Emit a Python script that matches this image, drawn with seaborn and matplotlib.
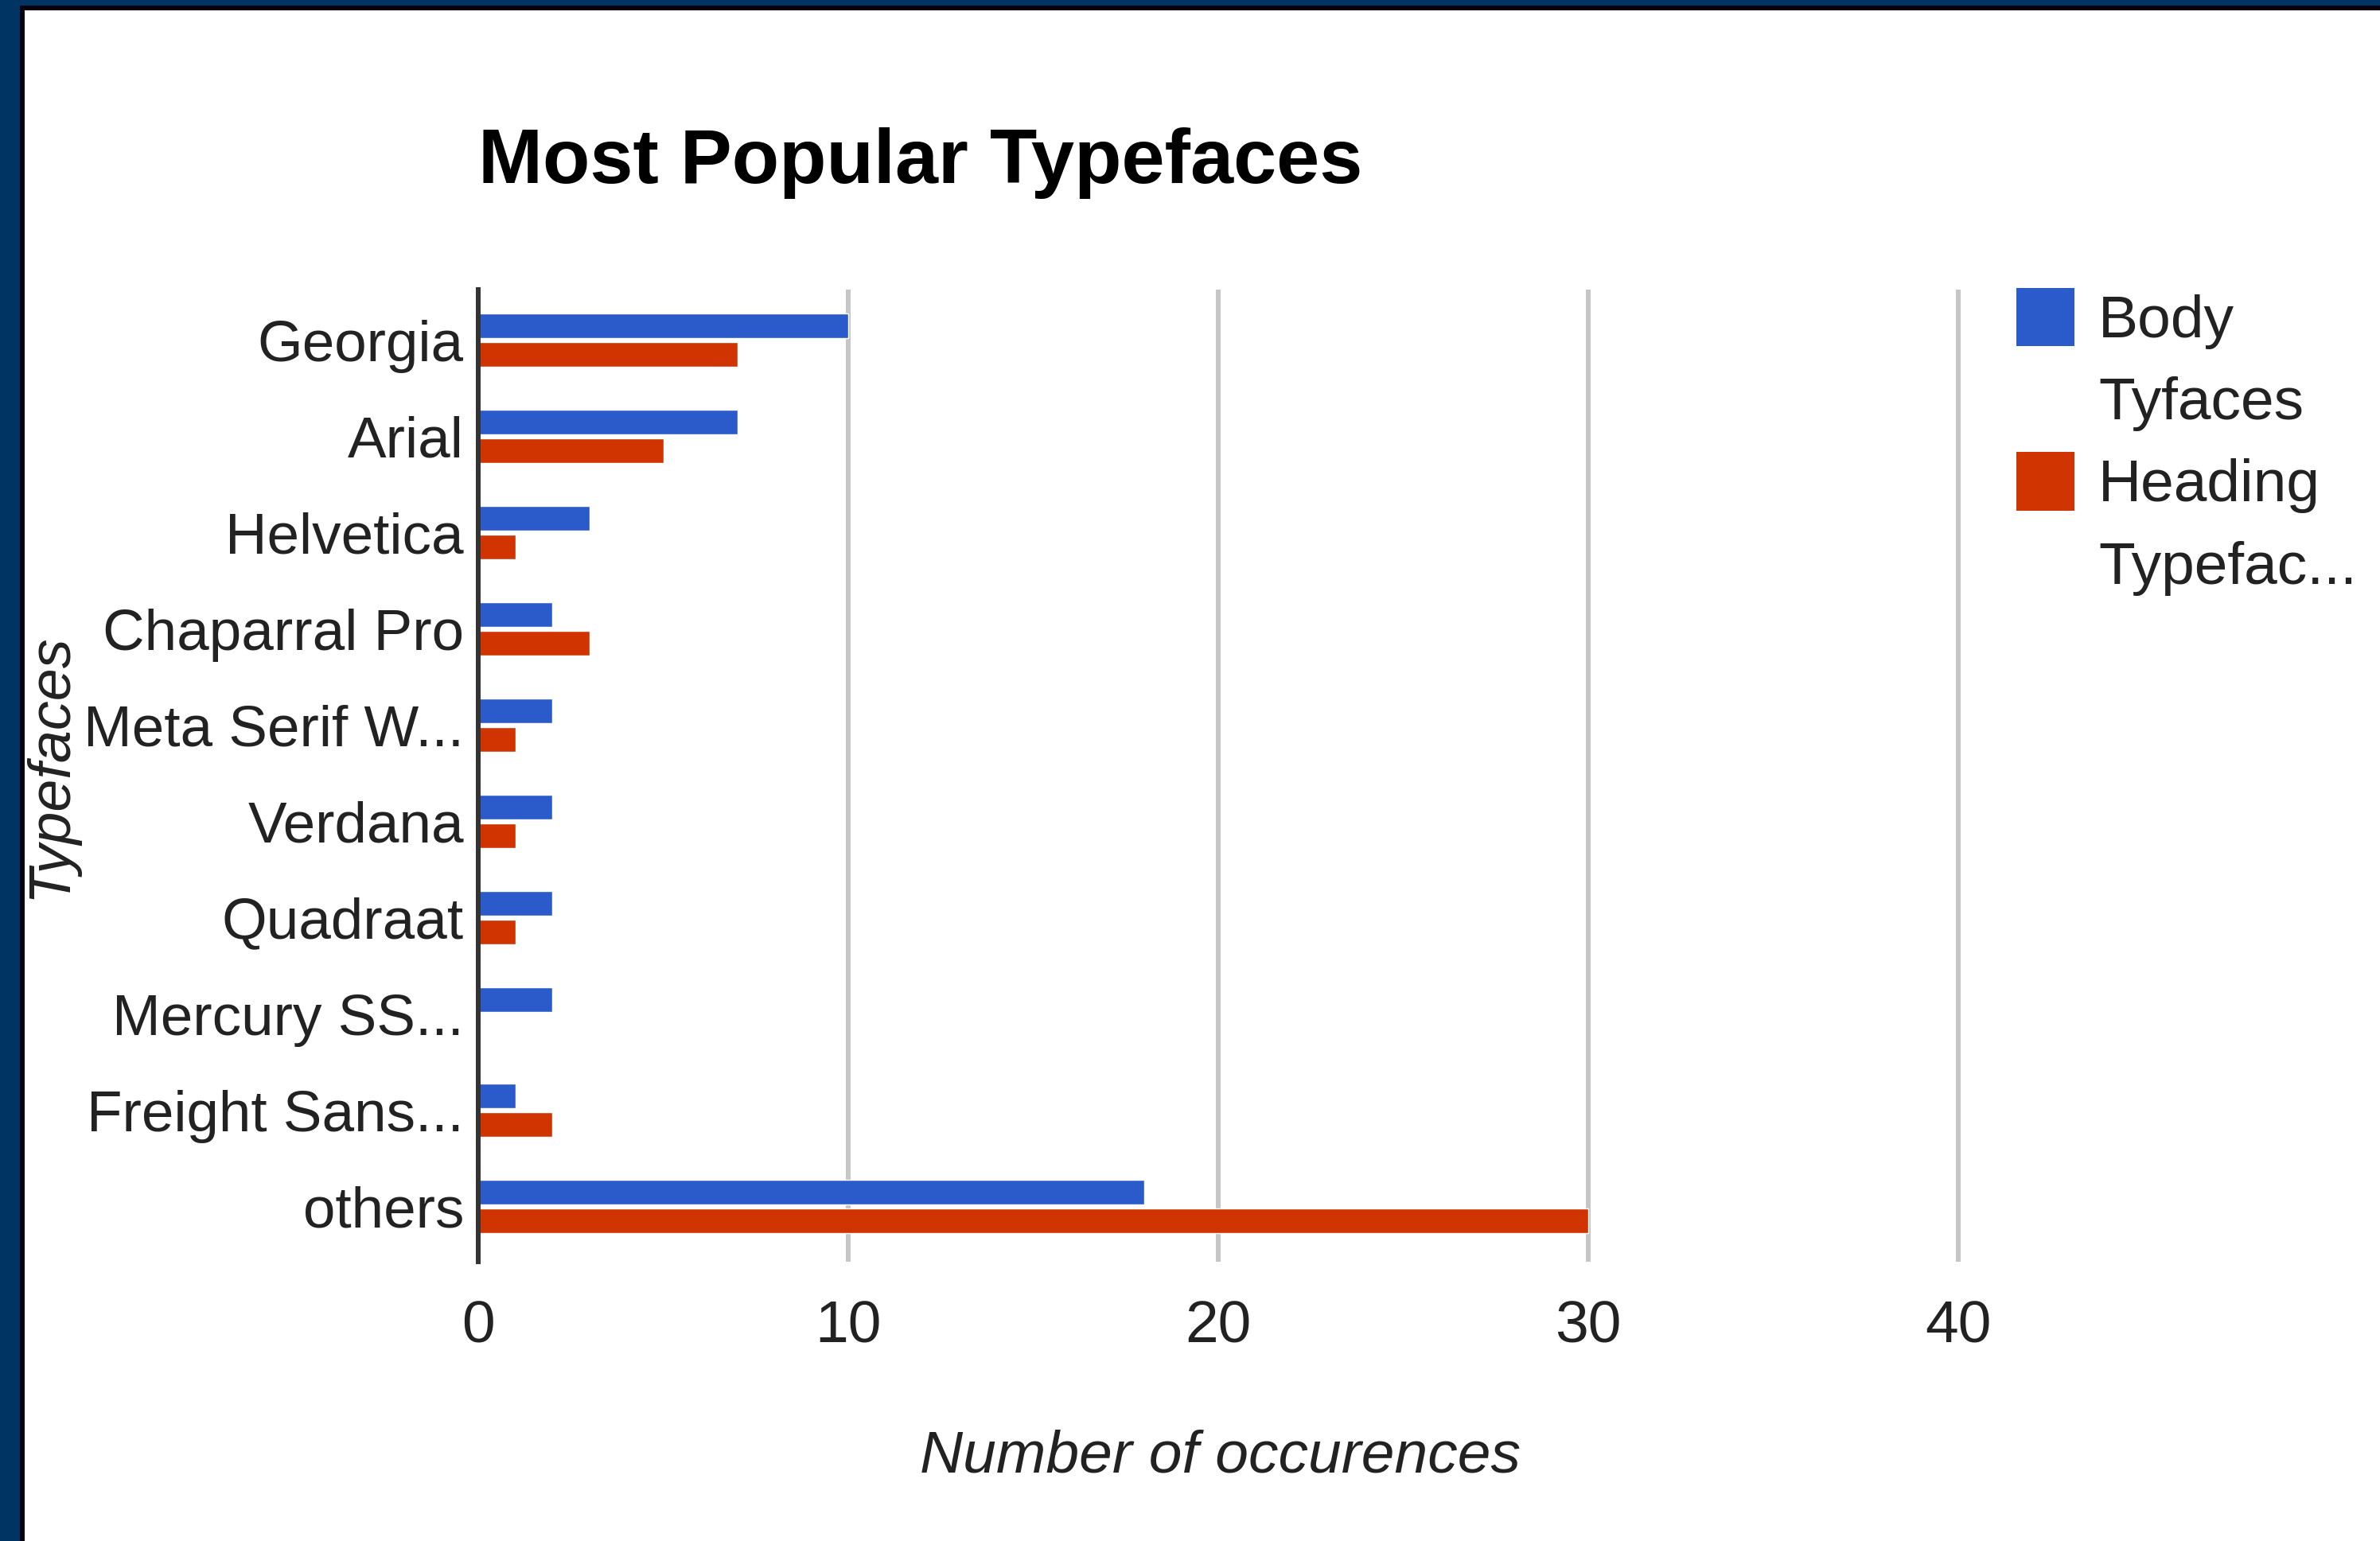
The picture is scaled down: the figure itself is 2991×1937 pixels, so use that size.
import pandas as pd
import matplotlib.pyplot as plt
import seaborn as sns
from matplotlib.patches import Patch, Rectangle


# [1. data]
typefaces = ['Georgia', 'Arial', 'Helvetica', 'Chaparral Pro', 'Meta Serif W...',
             'Verdana', 'Quadraat', 'Mercury SS...', 'Freight Sans...', 'others']
body = [10, 7, 3, 2, 2, 2, 2, 2, 1, 18]
heading = [7, 5, 1, 3, 1, 1, 1, 0, 2, 30]
x_ticks = [0, 10, 20, 30, 40]
series_names = ['Body', 'Heading']
legend_lines = [['Body', 'Tyfaces'], ['Heading', 'Typefac...']]

df = pd.DataFrame({
    'typeface': typefaces * 2,
    'count': body + heading,
    'series': [series_names[0]] * len(body) + [series_names[1]] * len(heading),
})

BLUE = '#2B5BCB'
RED = '#D03400'

# [2. figure, sized in pixels of the reference]
W, H = 2991, 1937
sns.set_theme(style='white')
plt.rcParams['font.family'] = ['Liberation Sans', 'DejaVu Sans']

fig = plt.figure(figsize=(W / 100, H / 100), dpi=100)
# plot area: x 601..2466 px, y 364..1586 px
ax = fig.add_axes([601 / W, 1 - 1586 / H, (2466 - 601) / W, (1586 - 364) / H])

sns.barplot(
    data=df, x='count', y='typeface', hue='series',
    palette=[BLUE, RED], saturation=1,
    width=0.6, gap=0.16, errorbar=None,
    legend=False, ax=ax
)

ax.set_xlim(0, 40.1)
ax.set_ylim(9.574, -0.525)   # groups sit a bit high in their bands
ax.set_xticks(x_ticks)
ax.set_xticklabels([str(t) for t in x_ticks])
ax.xaxis.grid(True, color='#C6C6C6', linewidth=4.3)
ax.yaxis.grid(False)
ax.set_axisbelow(True)

for side in ['top', 'right', 'bottom']:
    ax.spines[side].set_visible(False)
ax.spines['left'].set_color('#333333')
ax.spines['left'].set_linewidth(4.3)

ax.tick_params(axis='both', length=0, labelcolor='#222222')
ax.tick_params(axis='x', pad=34, labelsize=54)
ax.tick_params(axis='y', pad=13, labelsize=52.5)

ax.set_xlabel('Number of occurences', fontsize=54, fontstyle='italic', color='#222222')
ax.set_ylabel('Typefaces', fontsize=53, fontstyle='italic', color='#222222')
ax.xaxis.set_label_coords(0.5, -0.172)
ax.yaxis.set_label_coords(-0.270, 0.51)

# title, left aligned with the axis
fig.text(601 / W, 1 - 230 / H, 'Most Popular Typefaces', fontsize=70,
         fontweight='bold', color='black', va='baseline', ha='left')

# [3. legend: two-line labels, square next to first line]
handles, labels = [], []
for color, lines in zip([BLUE, RED], legend_lines):
    handles.append(Patch(facecolor=color, edgecolor='none'))
    labels.append(lines[0])
    handles.append(Patch(facecolor='none', edgecolor='none'))
    labels.append(lines[1])
ax.legend(handles, labels, loc='upper left', bbox_to_anchor=(2534 / W, 1 - 362 / H),
          bbox_transform=fig.transFigure, frameon=False, fontsize=54,
          borderpad=0, borderaxespad=0, handlelength=0.973, handleheight=1.122,
          handletextpad=0.40, labelspacing=0.35, labelcolor='#222222')

# [4. page frame: navy strip on left/top with a thin dark line]
fig.add_artist(Rectangle((0, 0), 25 / W, 1, transform=fig.transFigure,
                         facecolor='#003462', edgecolor='none'))
fig.add_artist(Rectangle((0, 1 - 7 / H), 1, 7 / H, transform=fig.transFigure,
                         facecolor='#003462', edgecolor='none'))
fig.add_artist(Rectangle((25 / W, 0), 6 / W, 1 - 7 / H, transform=fig.transFigure,
                         facecolor='#0A0010', edgecolor='none'))
fig.add_artist(Rectangle((25 / W, 1 - 13 / H), 1, 6 / H, transform=fig.transFigure,
                         facecolor='#0A0010', edgecolor='none'))

fig.savefig('out.png', dpi=100)
